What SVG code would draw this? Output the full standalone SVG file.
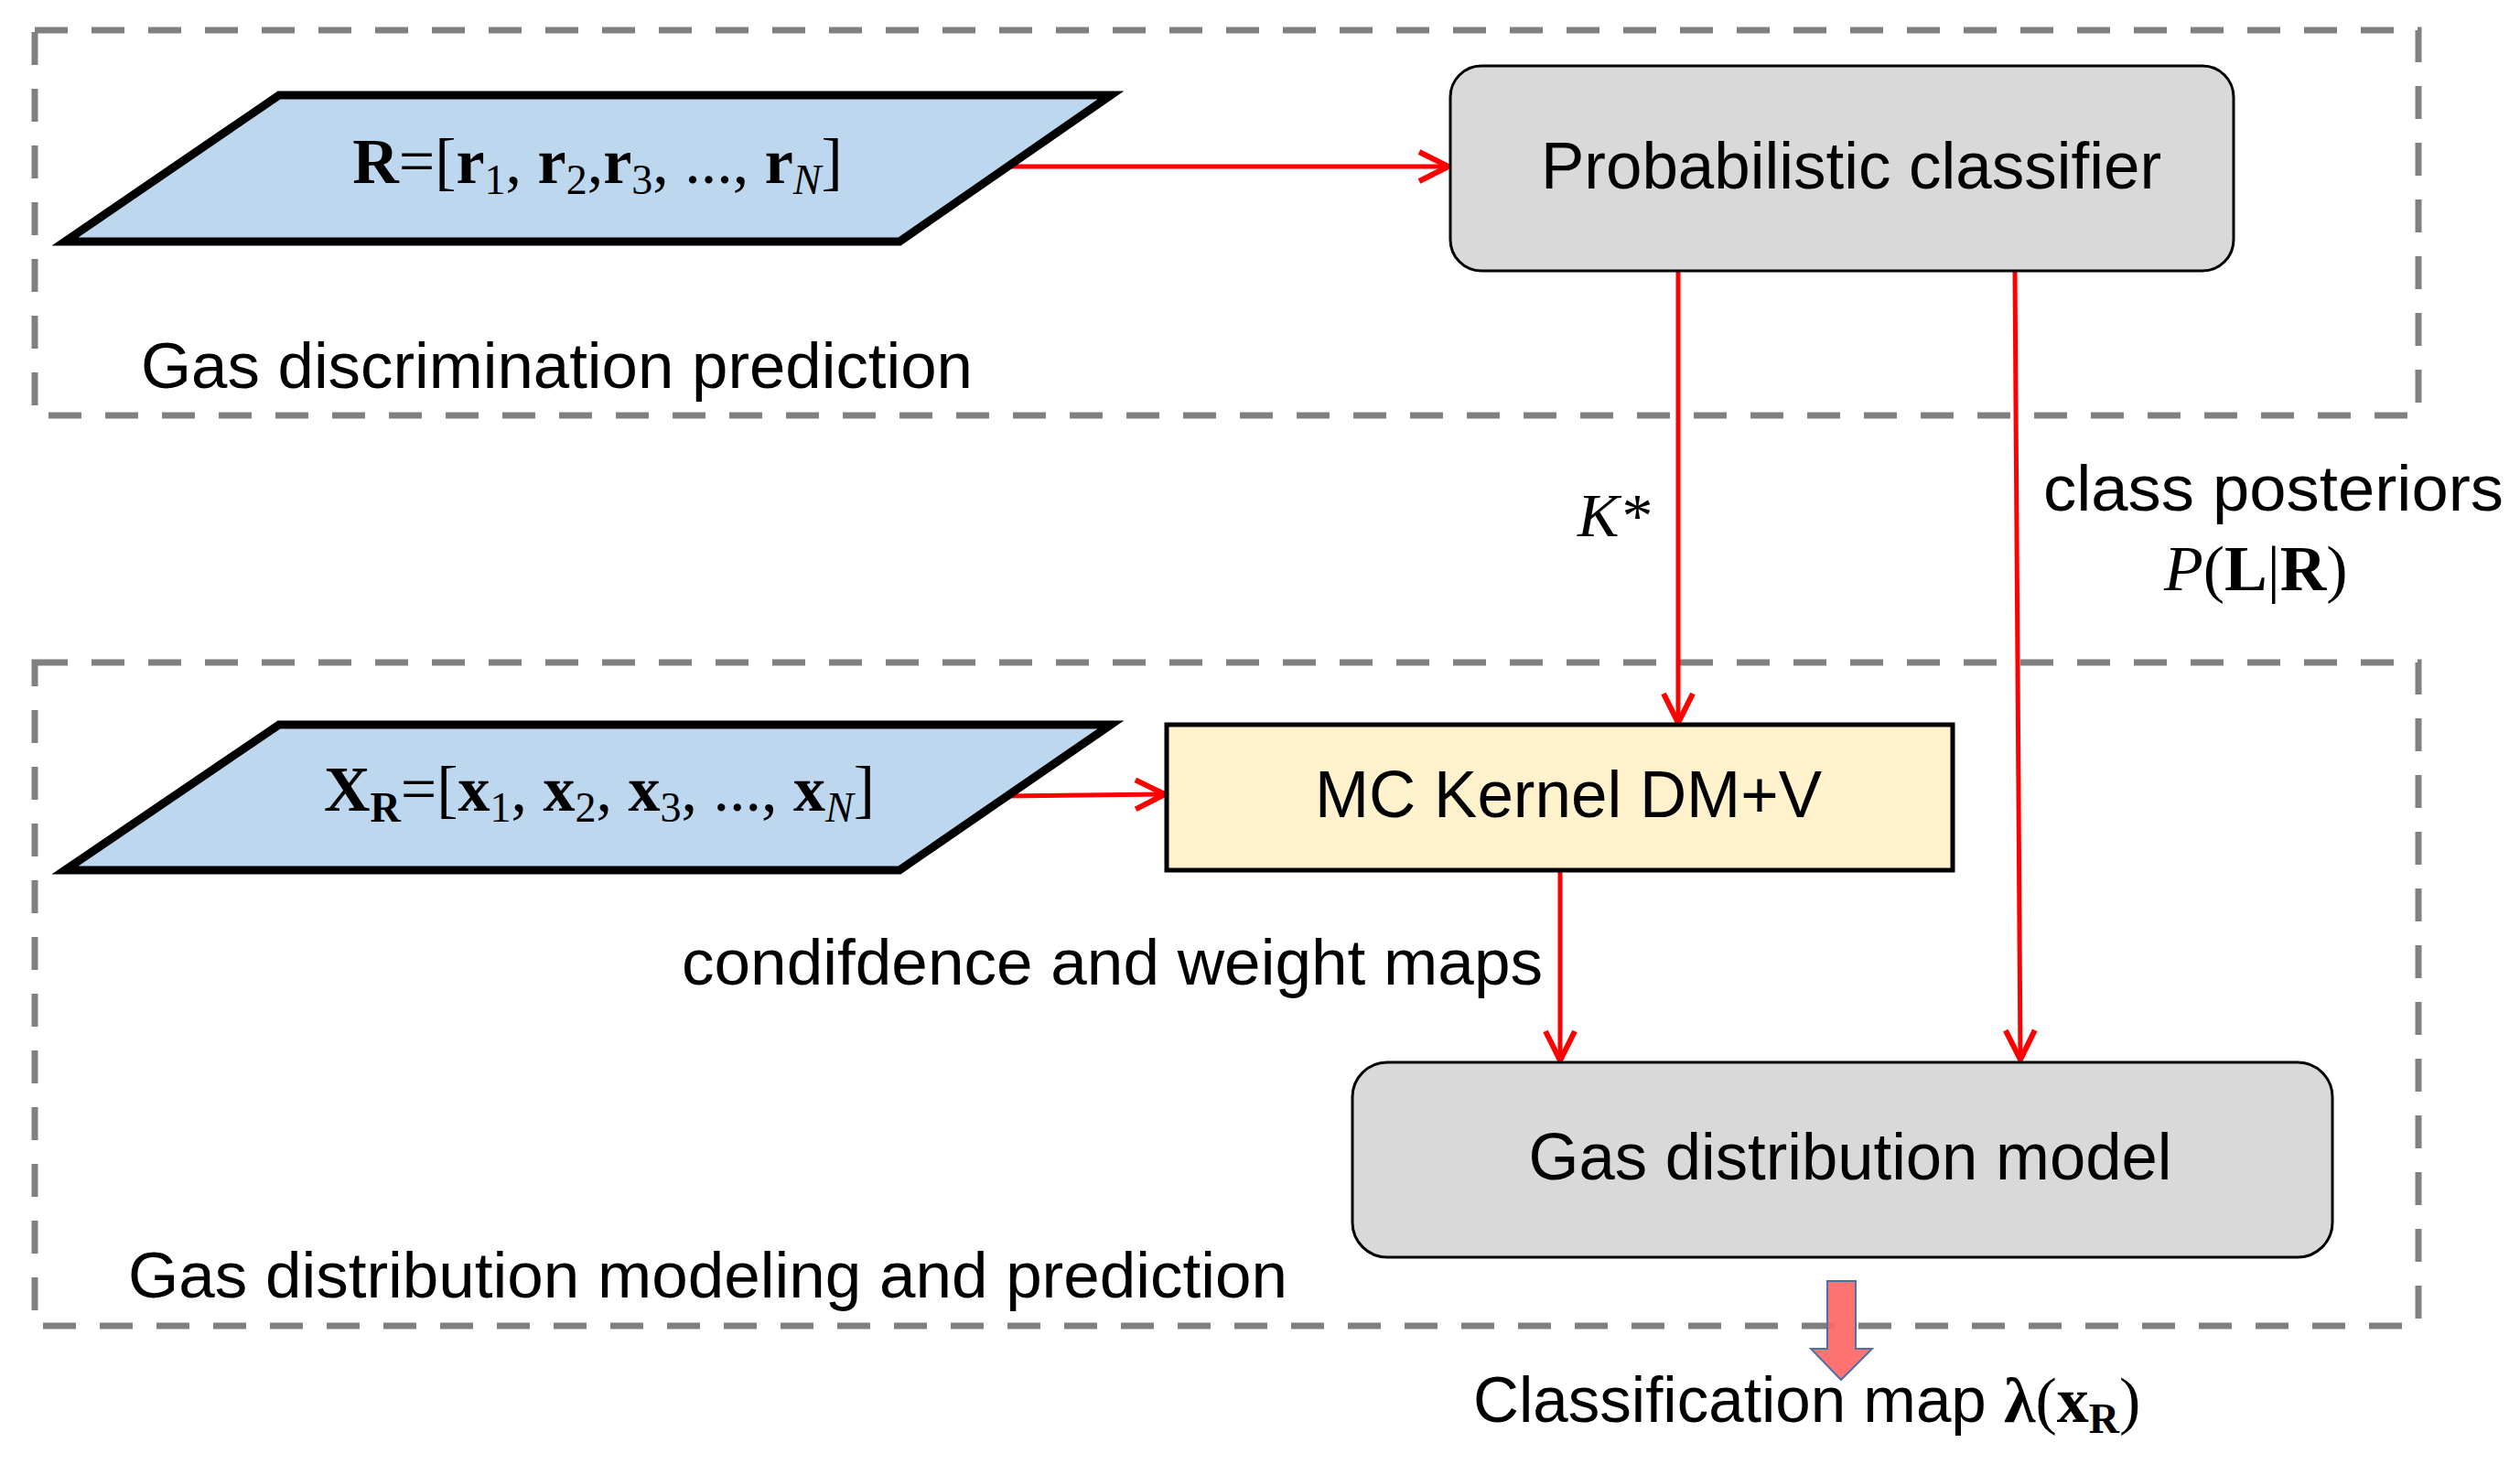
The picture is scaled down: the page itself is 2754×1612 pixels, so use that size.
<svg xmlns="http://www.w3.org/2000/svg" width="2754" height="1612" viewBox="0 0 2754 1612">
<style>
.grp{fill:none;stroke:#808080;stroke-width:7;stroke-dasharray:36 26}
.para{fill:#bdd7ee;stroke:#000;stroke-width:9;stroke-linejoin:miter}
.rbox{fill:#d9d9d9;stroke:#000;stroke-width:3}
.ar{fill:none;stroke:#ff0000;stroke-width:5}
.sans{font-family:"Liberation Sans",Arial,sans-serif;fill:#000}
.serif{font-family:"Liberation Serif","Times New Roman",serif;fill:#000}
</style>
<defs>
<marker id="ah" viewBox="0 0 20 20" refX="18" refY="10" markerWidth="8" markerHeight="8" markerUnits="strokeWidth" orient="auto">
<path d="M2,2 L18,10 L2,18" fill="none" stroke="#ff0000" stroke-width="3"/>
</marker>
</defs>
<g id="group-top"><rect class="grp" x="38" y="33" width="2605" height="421"/>
<text class="sans" x="154" y="424" font-size="70" textLength="909" lengthAdjust="spacingAndGlyphs">Gas discrimination prediction</text></g>
<g id="group-bottom"><rect class="grp" x="38" y="724" width="2605" height="725"/>
<text class="sans" x="140" y="1418" font-size="70" textLength="1267" lengthAdjust="spacingAndGlyphs">Gas distribution modeling and prediction</text></g>

<g id="connectors">
<line class="ar" x1="1098" y1="182" x2="1583" y2="182" marker-end="url(#ah)"/>
<line class="ar" x1="1834" y1="296" x2="1834" y2="790" marker-end="url(#ah)"/>
<line class="ar" x1="2202" y1="296" x2="2208" y2="1158" marker-end="url(#ah)"/>
<line class="ar" x1="1098" y1="870" x2="1273" y2="868" marker-end="url(#ah)"/>
<line class="ar" x1="1705" y1="951" x2="1705" y2="1159" marker-end="url(#ah)"/>
<text class="serif" x="1724" y="586" font-size="68" font-style="italic">K*</text>
<text class="sans" x="2233" y="558" font-size="70" textLength="503" lengthAdjust="spacingAndGlyphs">class posteriors</text>
<text class="serif" x="2365" y="645" font-size="70"><tspan font-style="italic">P</tspan>(<tspan font-weight="bold">L</tspan>|<tspan font-weight="bold">R</tspan>)</text>
<text class="sans" x="745" y="1076" font-size="70" textLength="941" lengthAdjust="spacingAndGlyphs">condifdence and weight maps</text>
<path d="M1997,1400 H2028 V1474 H2046 L2012,1508 L1979,1474 H1997 Z" fill="#ff6666" fill-opacity="0.92" stroke="#4f6fa8" stroke-width="2"/>
<text class="sans" x="1610" y="1554" font-size="70"><tspan textLength="580" lengthAdjust="spacingAndGlyphs">Classification map </tspan><tspan class="serif" font-weight="bold">λ</tspan><tspan class="serif">(</tspan><tspan class="serif" font-weight="bold">x</tspan><tspan class="serif" font-weight="bold" font-size="46" dy="12">R</tspan><tspan class="serif" dy="-12">)</tspan></text>
</g>

<g id="node-R"><polygon class="para" points="71,264 305,104 1214,104 983,264"/>
<text class="serif" x="653" y="200" font-size="70" text-anchor="middle"><tspan font-weight="bold">R</tspan>=[<tspan font-weight="bold">r</tspan><tspan font-size="46" dy="12">1</tspan><tspan dy="-12">, </tspan><tspan font-weight="bold">r</tspan><tspan font-size="46" dy="12">2</tspan><tspan dy="-12">,</tspan><tspan font-weight="bold">r</tspan><tspan font-size="46" dy="12">3</tspan><tspan dy="-12">, ..., </tspan><tspan font-weight="bold">r</tspan><tspan font-size="46" font-style="italic" dy="12">N</tspan><tspan dy="-12">]</tspan></text></g>

<g id="node-classifier"><rect class="rbox" x="1585" y="72" width="856" height="224" rx="34"/>
<text class="sans" x="2023" y="206" font-size="72" text-anchor="middle" textLength="678" lengthAdjust="spacingAndGlyphs">Probabilistic classifier</text></g>

<g id="node-XR"><polygon class="para" points="71,951 305,792 1214,792 983,951"/>
<text class="serif" x="655" y="886" font-size="70" text-anchor="middle"><tspan font-weight="bold">X</tspan><tspan font-size="46" font-weight="bold" dy="12">R</tspan><tspan dy="-12">=[</tspan><tspan font-weight="bold">x</tspan><tspan font-size="46" dy="12">1</tspan><tspan dy="-12">, </tspan><tspan font-weight="bold">x</tspan><tspan font-size="46" dy="12">2</tspan><tspan dy="-12">, </tspan><tspan font-weight="bold">x</tspan><tspan font-size="46" dy="12">3</tspan><tspan dy="-12">, ..., </tspan><tspan font-weight="bold">x</tspan><tspan font-size="46" font-style="italic" dy="12">N</tspan><tspan dy="-12">]</tspan></text></g>

<g id="node-mc"><rect x="1275" y="792" width="859" height="159" fill="#fff2cc" stroke="#000" stroke-width="5"/>
<text class="sans" x="1714" y="893" font-size="72" text-anchor="middle" textLength="554" lengthAdjust="spacingAndGlyphs">MC Kernel DM+V</text></g>

<g id="node-gdm"><rect class="rbox" x="1478" y="1161" width="1071" height="213" rx="38"/>
<text class="sans" x="2022" y="1289" font-size="72" text-anchor="middle" textLength="703" lengthAdjust="spacingAndGlyphs">Gas distribution model</text></g>
</svg>
